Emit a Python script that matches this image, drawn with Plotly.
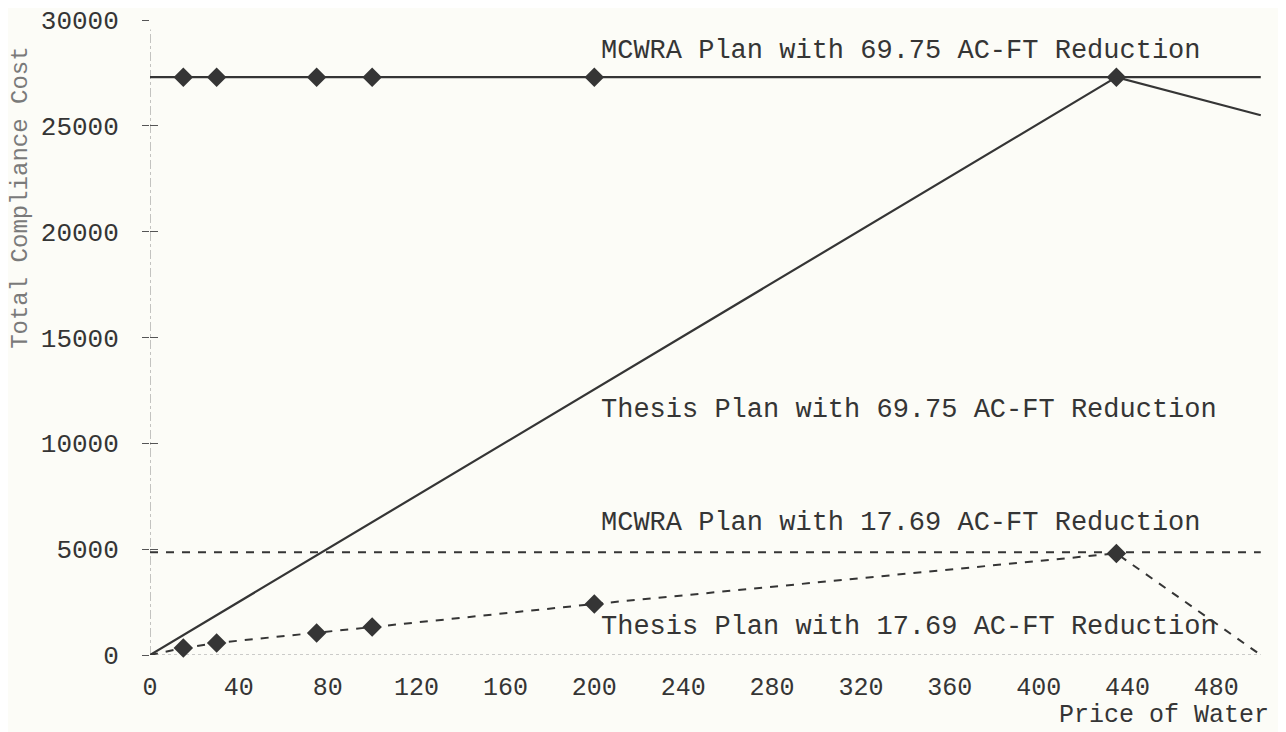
import plotly.graph_objects as go

# ---- data ----
price_points = [15, 30, 75, 100, 200, 435]
mcwra_6975_cost = 27300
mcwra_1769_cost = 4850
thesis_6975_x = [0, 435, 500]
thesis_6975_y = [0, 27300, 25500]
thesis_1769_x = [0, 15, 30, 75, 100, 200, 435, 500]
thesis_1769_y = [0, 330, 570, 1040, 1320, 2410, 4800, 0]
x_end = 500

x_ticks = [0, 40, 80, 120, 160, 200, 240, 280, 320, 360, 400, 440, 480]
y_ticks = [0, 5000, 10000, 15000, 20000, 25000, 30000]

labels = {
    "mcwra_6975": "MCWRA Plan with 69.75 AC-FT Reduction",
    "thesis_6975": "Thesis Plan with 69.75 AC-FT Reduction",
    "mcwra_1769": "MCWRA Plan with 17.69 AC-FT Reduction",
    "thesis_1769": "Thesis Plan with 17.69 AC-FT Reduction",
}

INK = "#353535"
FONT = "Liberation Mono, Courier New, monospace"
BG = "#fcfcf7"

fig = go.Figure()

# MCWRA 69.75: solid horizontal line with diamonds
fig.add_trace(go.Scatter(
    x=[0] + price_points + [x_end],
    y=[mcwra_6975_cost] * (len(price_points) + 2),
    mode="lines", line=dict(color=INK, width=2.2), showlegend=False, hoverinfo="skip"))
fig.add_trace(go.Scatter(
    x=price_points, y=[mcwra_6975_cost] * len(price_points),
    mode="markers", marker=dict(symbol="diamond", size=15, color=INK),
    showlegend=False, cliponaxis=False))

# MCWRA 17.69: dashed horizontal line
fig.add_trace(go.Scatter(
    x=[0, x_end], y=[mcwra_1769_cost, mcwra_1769_cost],
    mode="lines", line=dict(color=INK, width=2, dash="8px,8px"), showlegend=False))

# Thesis 69.75: solid
fig.add_trace(go.Scatter(
    x=thesis_6975_x, y=thesis_6975_y,
    mode="lines", line=dict(color=INK, width=2.2), showlegend=False, cliponaxis=False))

# Thesis 17.69: dashed with diamonds
fig.add_trace(go.Scatter(
    x=thesis_1769_x, y=thesis_1769_y,
    mode="lines", line=dict(color=INK, width=2, dash="8px,8px"), showlegend=False, cliponaxis=False))
fig.add_trace(go.Scatter(
    x=thesis_1769_x[1:-1], y=thesis_1769_y[1:-1],
    mode="markers", marker=dict(symbol="diamond", size=15, color=INK),
    showlegend=False, cliponaxis=False))

# dummy trace to keep the overlay tick axis alive
fig.add_trace(go.Scatter(x=[None], y=[None], yaxis="y2", showlegend=False))

# axis lines (dash-dot y, dotted x)
fig.add_shape(type="line", xref="x", yref="paper", x0=0, x1=0, y0=0, y1=0.985,
              line=dict(color="#8a8a8a", width=1, dash="dashdot"), layer="below")
fig.add_shape(type="line", xref="x", yref="y", x0=0, x1=x_end, y0=0, y1=0,
              line=dict(color="#9a9a9a", width=1, dash="dot"), layer="below")

# series labels
ann_font = dict(family=FONT, size=27, color=INK)
for key, ytxt in [("mcwra_6975", 28535), ("thesis_6975", 11575),
                  ("mcwra_1769", 6236), ("thesis_1769", 1323)]:
    fig.add_annotation(x=202, y=ytxt, xref="x", yref="y", text=labels[key],
                       showarrow=False, xanchor="left", yanchor="middle", font=ann_font)

# axis titles (paper coordinates so they are not hidden off-range)
fig.add_annotation(x=(1270 - 150) / 1133, y=-(731 - 655) / 635, xref="paper", yref="paper",
                   text="Price of Water", showarrow=False, xanchor="right", yanchor="bottom",
                   borderpad=0, font=dict(family=FONT, size=25, color=INK))
fig.add_annotation(x=-0.114, y=(655 - 198) / 635, xref="paper", yref="paper",
                   text="Total Compliance Cost",
                   textangle=-90, showarrow=False, xanchor="center", yanchor="middle",
                   font=dict(family=FONT, size=24, color="#7a7a7a"))

# the page body has an 8px margin, so the figure is 8px smaller and offset
fig.update_layout(
    width=1278, height=724,
    margin=dict(l=142, r=3, t=12, b=77, autoexpand=False),
    paper_bgcolor=BG, plot_bgcolor=BG,
    font=dict(family=FONT, size=26, color=INK),
    xaxis=dict(range=[0, 510], tickvals=x_ticks, ticktext=[str(v) for v in x_ticks],
               tickfont=dict(size=25),
               showgrid=False, zeroline=False, showline=False, ticks="",
               ticklabelstandoff=14, automargin=False, ticklabeloverflow="allow"),
    yaxis=dict(range=[0, 30000], tickvals=y_ticks, ticktext=[str(v) for v in y_ticks],
               showgrid=False, zeroline=False, showline=False,
               ticks="outside", ticklen=7, tickwidth=1, tickcolor="#555555",
               ticklabelstandoff=18, automargin=False, ticklabeloverflow="allow"),
    yaxis2=dict(range=[0, 30000], overlaying="y", side="left", tickvals=y_ticks,
                showticklabels=False, showgrid=False, zeroline=False, showline=False,
                ticks="inside", ticklen=8, tickwidth=1, tickcolor="#555555",
                automargin=False),
)

fig.write_html("out.html")
